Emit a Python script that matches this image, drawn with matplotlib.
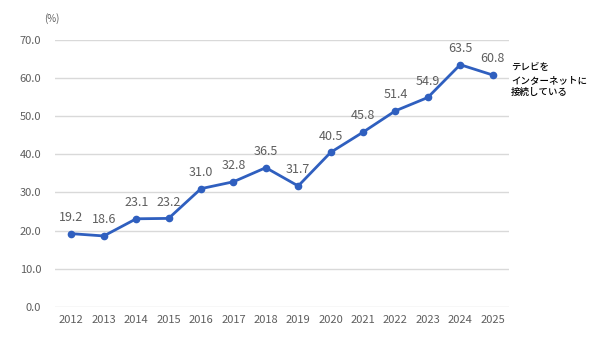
import matplotlib
matplotlib.use("Agg")
import matplotlib.pyplot as plt
import numpy as np

plt.rcParams['font.family'] = ['Noto Sans CJK JP', 'DejaVu Sans']

# Data
YEARS = [2012, 2013, 2014, 2015, 2016, 2017, 2018, 2019, 2020, 2021, 2022, 2023, 2024, 2025]
VALUES = [19.2, 18.6, 23.1, 23.2, 31.0, 32.8, 36.5, 31.7, 40.5, 45.8, 51.4, 54.9, 63.5, 60.8]
SERIES_LABEL = "テレビを\nインターネットに\n接続している"
Y_TICKS = [0, 10, 20, 30, 40, 50, 60, 70]

LINE_COLOR = "#2F5FBF"
TEXT_COLOR = "#5E5E5E"

fig = plt.figure(figsize=(6, 3.38), dpi=100)
ax = fig.add_axes([0.092, 0.092, 0.756, 0.79])

x = np.arange(len(YEARS))
ax.plot(x, VALUES, color=LINE_COLOR, linewidth=2, marker="o", markersize=4.5, zorder=3)

for xi, v in zip(x, VALUES):
    ax.annotate(f"{v:.1f}", (xi, v), xytext=(0, 7), textcoords="offset points",
                ha="center", va="bottom", fontsize=9, color=TEXT_COLOR)

ax.set_xlim(-0.5, len(YEARS) - 0.5)
ax.set_ylim(0, 70)
ax.set_yticks(Y_TICKS)
ax.set_yticklabels([f"{t:.1f}" for t in Y_TICKS])
ax.set_xticks(x)
ax.set_xticklabels([str(y) for y in YEARS])
ax.tick_params(axis="both", length=0, labelsize=8, labelcolor=TEXT_COLOR)
ax.tick_params(axis="y", pad=10)
ax.tick_params(axis="x", pad=6)

ax.grid(axis="y", color="#D9D9D9", linewidth=1)
ax.set_axisbelow(True)
for s in ax.spines.values():
    s.set_visible(False)

fig.text(0.087, 0.945, "(%)", fontsize=7, color=TEXT_COLOR, ha="center", va="center")
fig.text(0.852, 0.763, SERIES_LABEL, fontsize=6.8, fontweight="medium", color="black",
         ha="left", va="center", linespacing=1.5)

fig.savefig("out.png", dpi=100)
